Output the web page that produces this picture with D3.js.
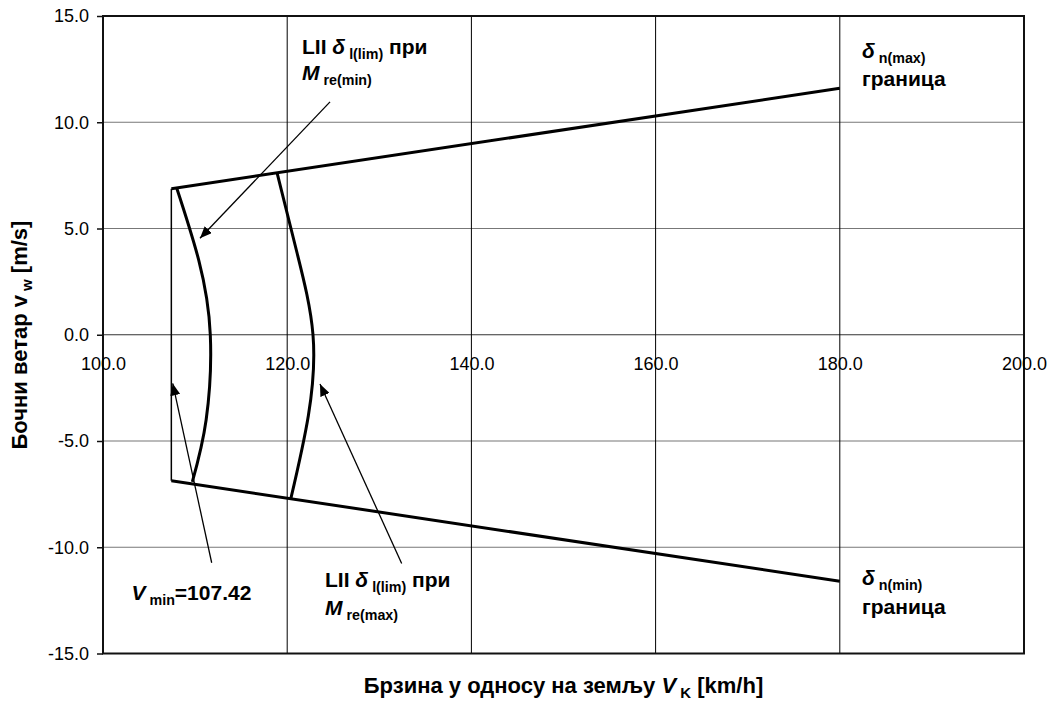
<!DOCTYPE html>
<html>
<head>
<meta charset="utf-8">
<script src="https://cdn.jsdelivr.net/npm/d3@7"></script>
<style>
  body { margin: 0; background: #fff; }
  text { font-family: Arial, "Liberation Sans", sans-serif; }
</style>
</head>
<body>
<svg id="chart" width="1052" height="704"></svg>
<script>
// Axis ticks
const xTicks = [100, 120, 140, 160, 180, 200];
const yTicks = [15, 10, 5, 0, -5, -10, -15];

// Minimum ground speed and the δn boundary lines
const vMin = 107.42;
const boundX = [vMin, 180];
const upperY = [6.87, 11.6];
const lowerY = [-6.87, -11.6];

// LII δl(lim) at Mre(min)
const curveMinX = [108.0, 110.4, 111.65, 111.2, 109.7];
const curveMinY = [6.91, 3.5, 0.0, -4.0, -6.92];

// LII δl(lim) at Mre(max)
const curveMaxX = [118.9, 121.1, 122.8, 122.3, 120.4];
const curveMaxY = [7.62, 3.8, 0.0, -3.8, -7.70];

// Pointer arrows: tail x, tail y, tip x, tip y
const arrowTailX = [124.65, 111.80, 132.43];
const arrowTailY = [10.96, -10.73, -10.76];
const arrowTipX = [110.53, 107.57, 123.56];
const arrowTipY = [4.54, -2.29, -2.32];

const svg = d3.select("#chart");
const x = d3.scaleLinear().domain([100, 200]).range([103, 1024]);
const y = d3.scaleLinear().domain([-15, 15]).range([653.5, 16]);

svg.append("rect").attr("width", 1052).attr("height", 704).attr("fill", "#fff");

// Grid
svg.append("g").selectAll("line").data(yTicks.filter(d => d !== 15 && d !== -15))
  .join("line")
  .attr("x1", x(100)).attr("x2", x(200))
  .attr("y1", d => y(d)).attr("y2", d => y(d))
  .attr("stroke", d => d === 0 ? "#333" : "#777").attr("stroke-width", 1.2);
svg.append("g").selectAll("line").data(xTicks.filter(d => d !== 100 && d !== 200))
  .join("line")
  .attr("x1", d => x(d)).attr("x2", d => x(d))
  .attr("y1", y(15)).attr("y2", y(-15))
  .attr("stroke", "#000").attr("stroke-width", 1);

// Frame
svg.append("rect")
  .attr("x", x(100)).attr("y", y(15))
  .attr("width", x(200) - x(100)).attr("height", y(-15) - y(15))
  .attr("fill", "none").attr("stroke", "#111").attr("stroke-width", 2);

// Y axis
const yAxis = svg.append("g").attr("transform", `translate(${x(100)},0)`)
  .call(d3.axisLeft(y).tickValues(yTicks).tickSize(6).tickPadding(8)
    .tickFormat(d => d.toFixed(1)));
yAxis.select(".domain").remove();
yAxis.selectAll("text").attr("font-size", 18).attr("fill", "#000")
  .attr("font-family", "Arial, 'Liberation Sans', sans-serif");
yAxis.selectAll("line").attr("stroke", "#111").attr("stroke-width", 1.5);

// X axis labels along the zero line
const xAxis = svg.append("g").attr("transform", `translate(0,${y(0)})`)
  .call(d3.axisBottom(x).tickValues(xTicks).tickSize(0).tickPadding(22)
    .tickFormat(d => d.toFixed(1)));
xAxis.select(".domain").remove();
xAxis.selectAll("text").attr("font-size", 18).attr("fill", "#000")
  .attr("font-family", "Arial, 'Liberation Sans', sans-serif");

// Data lines
const line = d3.line().x(d => x(d[0])).y(d => y(d[1]));
const smooth = d3.line().x(d => x(d[0])).y(d => y(d[1])).curve(d3.curveNatural);

svg.append("path").datum([[vMin, lowerY[0]], [vMin, upperY[0]]])
  .attr("d", line).attr("fill", "none").attr("stroke", "#000").attr("stroke-width", 1.5);
svg.append("path").datum(boundX.map((v, i) => [v, upperY[i]]))
  .attr("d", line).attr("fill", "none").attr("stroke", "#000").attr("stroke-width", 3);
svg.append("path").datum(boundX.map((v, i) => [v, lowerY[i]]))
  .attr("d", line).attr("fill", "none").attr("stroke", "#000").attr("stroke-width", 3);
svg.append("path").datum(curveMinX.map((v, i) => [v, curveMinY[i]]))
  .attr("d", smooth).attr("fill", "none").attr("stroke", "#000").attr("stroke-width", 3);
svg.append("path").datum(curveMaxX.map((v, i) => [v, curveMaxY[i]]))
  .attr("d", smooth).attr("fill", "none").attr("stroke", "#000").attr("stroke-width", 3);

// Arrows
svg.append("defs").append("marker")
  .attr("id", "head").attr("viewBox", "0 0 12 10")
  .attr("refX", 12).attr("refY", 5)
  .attr("markerWidth", 12).attr("markerHeight", 10)
  .attr("markerUnits", "userSpaceOnUse").attr("orient", "auto")
  .append("path").attr("d", "M0,0 L12,5 L0,10 Z").attr("fill", "#000");
svg.append("g").selectAll("line").data(arrowTailX)
  .join("line")
  .attr("x1", (d, i) => x(d)).attr("y1", (d, i) => y(arrowTailY[i]))
  .attr("x2", (d, i) => x(arrowTipX[i])).attr("y2", (d, i) => y(arrowTipY[i]))
  .attr("stroke", "#000").attr("stroke-width", 1.3)
  .attr("marker-end", "url(#head)");

// Rich text helper: parts are [text, style] where style is "", "i" (italic) or "s" (subscript)
function rich(g, px, py, parts, size) {
  const t = g.append("text").attr("x", px).attr("y", py)
    .attr("font-size", size).attr("font-weight", "bold").attr("fill", "#000");
  let shift = 0;
  parts.forEach(([s, st]) => {
    const sp = t.append("tspan").text(s);
    if (st === "i") sp.attr("font-style", "italic");
    if (st === "s") {
      sp.attr("font-size", size * 0.68).attr("dy", 5 - shift);
      shift = 5;
    } else if (shift !== 0) {
      sp.attr("dy", -shift);
      shift = 0;
    }
  });
  t.attr("xml:space", "preserve");
  return t;
}

const ann = svg.append("g");
const fs = 21;
rich(ann, 302, 54, [["LII ", ""], ["δ", "i"], [" l(lim)", "s"], [" при", ""]], fs);
rich(ann, 302, 80, [["M", "i"], [" re(min)", "s"]], fs);
rich(ann, 131.5, 600, [["V", "i"], [" min", "s"], ["=107.42", ""]], fs);
rich(ann, 325, 587, [["LII ", ""], ["δ", "i"], [" l(lim)", "s"], [" при", ""]], fs);
rich(ann, 325, 615, [["M", "i"], [" re(max)", "s"]], fs);
rich(ann, 862, 58, [["δ", "i"], [" n(max)", "s"]], fs);
rich(ann, 862, 86, [["граница", ""]], fs);
rich(ann, 862, 585, [["δ", "i"], [" n(min)", "s"]], fs);
rich(ann, 862, 614, [["граница", ""]], fs);

// Axis titles
const xt = rich(svg, 563.5, 693, [["Брзина у односу на земљу ", ""], ["V", "i"], [" K", "s"], [" [km/h]", ""]], 22);
xt.attr("text-anchor", "middle");
const yt = rich(svg, 0, 0, [["Бочни ветар v", ""], [" w", "s"], [" [m/s]", ""]], 22);
yt.attr("text-anchor", "middle").attr("transform", "translate(27,335) rotate(-90)");
</script>
</body>
</html>
